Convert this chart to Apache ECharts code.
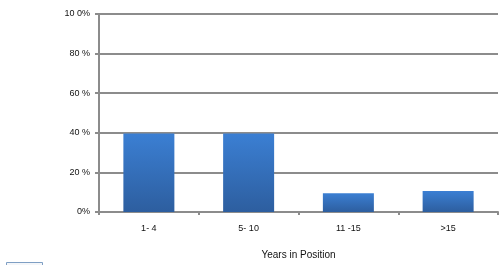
<!DOCTYPE html>
<html>
<head>
<meta charset="utf-8">
<style>
html,body{margin:0;padding:0;background:#fff;}
#c{width:499px;height:265px;}
</style>
<script src="https://cdn.jsdelivr.net/npm/echarts@6/dist/echarts.min.js"></script>
</head>
<body>
<div id="c"></div>
<script>
const categories = ['1- 4', '5- 10', '11 -15', '>15'];
const values = [39.6, 39.6, 9.5, 10.6];
const yTickLabels = ['0%', '20 %', '40 %', '60 %', '80 %', '10 0%'];
const xAxisTitle = 'Years in Position';

const chart = echarts.init(document.getElementById('c'), null, {renderer: 'canvas'});
const font = 'Liberation Sans';
chart.setOption({
  animation: false,
  grid: {left: 99, right: 1, top: 14, bottom: 51},
  xAxis: {
    type: 'category',
    data: categories,
    name: xAxisTitle,
    nameLocation: 'middle',
    nameGap: 38,
    nameTextStyle: {fontFamily: font, fontSize: 10, color: '#111'},
    axisLine: {lineStyle: {color: '#8c8c8c', width: 2}},
    axisTick: {show: true, alignWithLabel: false, length: 3, lineStyle: {color: '#8c8c8c', width: 2}},
    axisLabel: {fontFamily: font, fontSize: 9, color: '#111', margin: 12}
  },
  yAxis: {
    type: 'value',
    min: 0, max: 100, interval: 20,
    axisLine: {show: true, lineStyle: {color: '#8c8c8c', width: 2}},
    axisTick: {show: true, length: 4, lineStyle: {color: '#8c8c8c', width: 2}},
    splitLine: {show: true, lineStyle: {color: '#8c8c8c', width: 2}},
    axisLabel: {
      fontFamily: font, fontSize: 9, color: '#111', margin: 9,
      formatter: function (v) { return yTickLabels[Math.round(v / 20)]; }
    }
  },
  series: [{
    type: 'bar',
    data: values,
    barWidth: 51,
    itemStyle: {
      color: new echarts.graphic.LinearGradient(0, 0, 0, 1, [
        {offset: 0, color: '#3b7fd3'},
        {offset: 1, color: '#2d5e9f'}
      ])
    }
  }],
  graphic: [{
    type: 'rect',
    left: 6, top: 262,
    shape: {width: 36, height: 8},
    style: {fill: '#f4f6f9', stroke: '#7f9fc4', lineWidth: 1}
  }]
});
</script>
</body>
</html>
